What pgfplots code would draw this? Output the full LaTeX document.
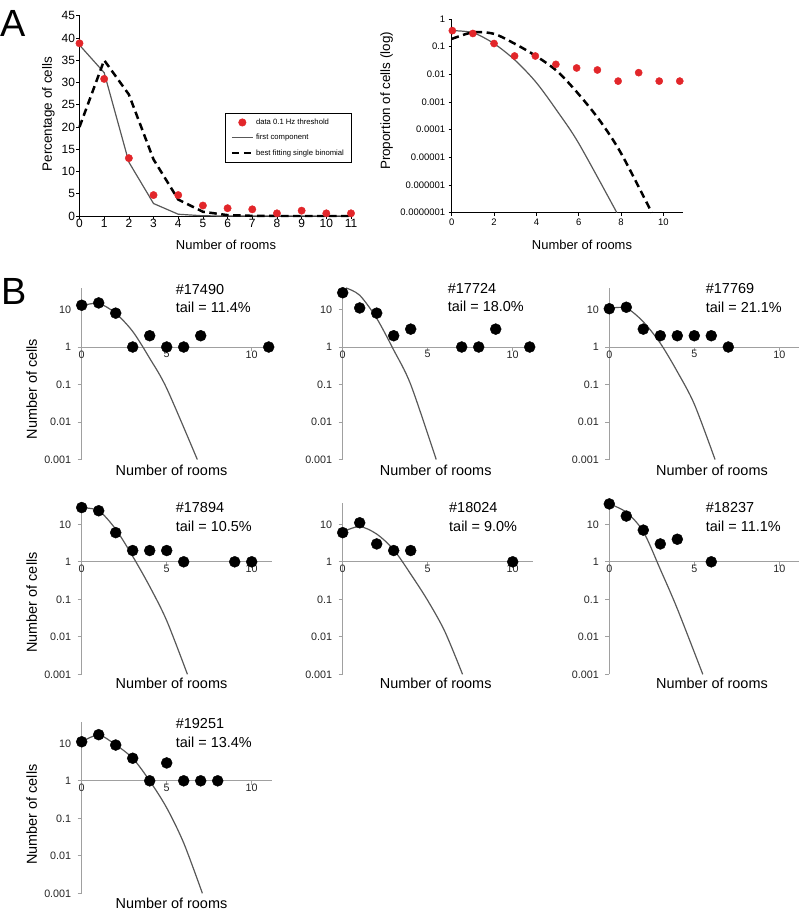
\documentclass[border=0pt]{standalone}
\usepackage{fontspec}
\setmainfont{Liberation Sans}
\usepackage{pgfplots}
\pgfplotsset{compat=1.18}
\definecolor{dotred}{RGB}{226,38,42}
\definecolor{curvegray}{RGB}{88,88,88}
\definecolor{axgray}{RGB}{160,160,160}
\newcommand{\fs}[1]{\fontsize{#1}{#1}\selectfont}
\pgfplotsset{
  noarrows/.style={
    axis line style={-},
    every inner x axis line/.append style={-},
    every inner y axis line/.append style={-},
    every outer x axis line/.append style={-},
    every outer y axis line/.append style={-},
  },
  bpanel/.style={
    anchor=south west, scale only axis, width=190.4bp, height=171.6bp,
    xmin=0, xmax=11.2, ymin=0.001, ymax=37.7,
    axis y line=left, axis x line=middle, noarrows,
    axis line style={draw=axgray, line width=0.9pt},
    xtick={0,5,10}, ytick={0.001,0.01,0.1,1,10},
    yticklabels={0.001,0.01,0.1,1,10},
    minor tick style={draw=none},
    major tick style={draw=axgray, line width=0.9pt},
    tick align=outside, major tick length=4bp,
    hide obscured x ticks=false, hide obscured y ticks=false,
    ticklabel style={font=\fs{10.8}, text=black!85},
    xticklabel style={yshift=4bp},
    yticklabel style={xshift=-3bp},
    /pgf/number format/assume math mode=true,
    clip=false,
  },
  bcurve/.style={curvegray, line width=1.2pt, smooth, tension=0.5, no markers},
  bdots/.style={only marks, mark=*, mark size=5.5bp, black},
}
\begin{document}
\begin{tikzpicture}
\path[use as bounding box] (0bp,0bp) rectangle (799bp,-916bp);

% ---------------- Panel A left ----------------
\begin{axis}[
  at={(79.5bp,-216bp)}, anchor=south west, scale only axis,
  width=271.5bp, height=200.3bp,
  xmin=0, xmax=11, ymin=0, ymax=45,
  axis lines=left, noarrows, axis line style={black, line width=0.7pt},
  xtick={0,...,11}, ytick={0,5,...,45},
  tick align=outside, major tick length=3bp, major tick style={black, line width=0.7pt},
  minor tick style={draw=none},
  ticklabel style={font=\fs{12}},
  xticklabel style={yshift=3bp}, yticklabel style={xshift=2bp},
  /pgf/number format/assume math mode=true,
  clip=false,
  legend cell align=left,
  legend style={at={(0.537,0.516)}, anchor=north west, draw=black, line width=0.6pt,
    font=\fs{7.7}, inner xsep=5bp, inner ysep=4bp, row sep=4.3bp},
  legend image code/.code={\draw[mark repeat=2,mark phase=2,#1] plot coordinates {(0bp,0bp) (10.5bp,0bp) (21bp,0bp)};},
]
\addplot[only marks, mark=*, mark size=3.7bp, dotred] coordinates {
 (0,38.8) (1,30.8) (2,13.0) (3,4.7) (4,4.7) (5,2.35) (6,1.75) (7,1.5) (8,0.6) (9,1.2) (10,0.6) (11,0.6)};
\addlegendentry{data 0.1 Hz threshold}
\addplot[curvegray, line width=1.2pt, no markers] coordinates {
 (0,38.4) (1,32.2) (2,12.1) (3,2.8) (4,0.4) (5,0.05) (6,0) (7,0) (8,0) (9,0) (10,0) (11,0)};
\addlegendentry{first component}
\addplot[black, line width=2.5pt, dash pattern=on 7.5bp off 4.5bp, no markers] coordinates {
 (0,20) (1,35) (2,27.3) (3,12.7) (4,3.7) (5,0.95) (6,0.2) (7,0.04) (8,0) (9,0) (10,0) (11,0)};
\addlegendentry{best fitting single binomial}
\end{axis}

% ---------------- Panel A right ----------------
\begin{axis}[
  at={(451.7bp,-212.7bp)}, anchor=south west, scale only axis,
  width=230.8bp, height=193.7bp,
  xmin=0, xmax=10.9, ymode=log, ymin=1e-7, ymax=1,
  axis lines=left, noarrows, axis line style={black, line width=0.7pt},
  xtick={0,2,4,6,8,10},
  ytick={1e-7,1e-6,1e-5,1e-4,1e-3,1e-2,1e-1,1},
  yticklabels={0.0000001,0.000001,0.00001,0.0001,0.001,0.01,0.1,1},
  tick align=outside, major tick length=3bp, major tick style={black, line width=0.7pt},
  minor tick style={draw=none},
  ticklabel style={font=\fs{9.5}},
  /pgf/number format/assume math mode=true,
  clip=false,
]
\addplot[only marks, mark=*, mark size=3.6bp, dotred] coordinates {
 (0.03,0.38) (1,0.30) (2,0.13) (2.97,0.046) (3.95,0.046) (4.92,0.023) (5.9,0.017) (6.88,0.0144) (7.86,0.0057) (8.83,0.0115) (9.8,0.0057) (10.77,0.0057)};
\addplot[curvegray, line width=1.2pt, smooth, tension=0.5, no markers] coordinates {
 (0,0.38) (1,0.32) (2,0.129) (3,0.032) (4,0.005) (5,4.5e-4) (6,3.2e-5) (7.8,1e-7)};
\addplot[black, line width=2.5pt, dash pattern=on 7.5bp off 4.5bp, smooth, tension=0.5, no markers] coordinates {
 (0,0.19) (1,0.33) (2,0.29) (3,0.125) (4,0.045) (5,0.0126) (6,0.0019) (7,2.1e-4) (8,1.4e-5) (9.45,1e-7)};
\end{axis}

% ---------------- Panel labels and axis titles for A ----------------
\node[font=\fs{38}] at (13bp,-23.5bp) {A};
\node[font=\fs{38}] at (14bp,-291bp) {B};
\node[font=\fs{13.5}, rotate=90] at (48.3bp,-114.2bp) {Percentage of cells};
\node[font=\fs{13.5}, rotate=90] at (386.7bp,-100.8bp) {Proportion of cells (log)};
\node[font=\fs{13}] at (226bp,-245bp) {Number of rooms};
\node[font=\fs{13}] at (582bp,-245bp) {Number of rooms};

% ---------------- Panel B ----------------
% #17490
\begin{axis}[ymode=log, bpanel, at={(81.7bp,-459.5bp)}]
\addplot[bcurve] coordinates {(0,12.6) (1,14.5) (2,7.9) (3,2.6) (4,0.5) (5,0.079) (6.8,0.001)};
\addplot[bdots] coordinates {(0,13) (1,15) (2,8) (3,1) (4,2) (5,1) (6,1) (7,2) (11,1)};
\end{axis}
% #17724
\begin{axis}[ymode=log, bpanel, at={(342.7bp,-459.5bp)}]
\addplot[bcurve] coordinates {(0.2,37.5) (1,24) (2,5.8) (3,0.83) (4,0.1) (5.5,0.001)};
\addplot[bdots] coordinates {(0,28) (1,11) (2,8) (3,2) (4,3) (7,1) (8,1) (9,3) (11,1)};
\end{axis}
% #17769
\begin{axis}[ymode=log, bpanel, at={(609.3bp,-459.5bp)}]
\addplot[bcurve] coordinates {(0,10.7) (1,10.9) (2,4.7) (3,1.26) (4,0.22) (5,0.03) (6.22,0.001)};
\addplot[bdots] coordinates {(0,10.5) (1,11.5) (2,3) (3,2) (4,2) (5,2) (6,2) (7,1)};
\end{axis}
% #17894
\begin{axis}[ymode=log, bpanel, at={(81.7bp,-674.3bp)}]
\addplot[bcurve] coordinates {(0,27.5) (1,23) (2,7.4) (3,1.4) (4,0.22) (5,0.027) (6.22,0.001)};
\addplot[bdots] coordinates {(0,28) (1,23) (2,6) (3,2) (4,2) (5,2) (6,1) (9,1) (10,1)};
\end{axis}
% #18024
\begin{axis}[ymode=log, bpanel, at={(342.7bp,-674.3bp)}]
\addplot[bcurve] coordinates {(0,6.3) (1,8.7) (2,5.5) (3,2.1) (4,0.47) (5,0.093) (6,0.0141) (7.05,0.001)};
\addplot[bdots] coordinates {(0,6) (1,11) (2,3) (3,2) (4,2) (10,1)};
\end{axis}
% #18237
\begin{axis}[ymode=log, bpanel, at={(609.3bp,-674.3bp)}]
\addplot[bcurve] coordinates {(0,35) (1,21) (2,6.4) (3,0.63) (4,0.056) (5.5,0.001)};
\addplot[bdots] coordinates {(0,35) (1,16.6) (2,7) (3,3) (4,4) (6,1)};
\end{axis}
% #19251
\begin{axis}[ymode=log, bpanel, at={(81.7bp,-893.3bp)}]
\addplot[bcurve] coordinates {(0,11) (1,16.6) (2,9.1) (3,4) (4,1) (5,0.19) (6,0.022) (7.1,0.001)};
\addplot[bdots] coordinates {(0,11) (1,17) (2,9) (3,4) (4,1) (5,3) (6,1) (7,1) (8,1)};
\end{axis}

% titles of panel B
\foreach \yy in {389,602.5,814.7}
  \node[font=\fs{14.5}, rotate=90] at (31.7bp,-\yy bp) {Number of cells};
\node[font=\fs{14.5}] at (171.5bp,-470bp) {Number of rooms};
\node[font=\fs{14.5}] at (435.7bp,-470bp) {Number of rooms};
\node[font=\fs{14.5}] at (712bp,-470bp) {Number of rooms};
\node[font=\fs{14.5}] at (171.5bp,-683.3bp) {Number of rooms};
\node[font=\fs{14.5}] at (435.7bp,-683.3bp) {Number of rooms};
\node[font=\fs{14.5}] at (712bp,-683.3bp) {Number of rooms};
\node[font=\fs{14.5}] at (171.5bp,-903.3bp) {Number of rooms};

\begin{scope}[every node/.style={font=\fs{14.5}, anchor=west, inner sep=0pt}]
\node at (175.7bp,-289.3bp) {\#17490};
\node at (175.7bp,-307.3bp) {tail = 11.4\%};
\node at (447.7bp,-288.3bp) {\#17724};
\node at (447.7bp,-306.7bp) {tail = 18.0\%};
\node at (705.7bp,-288.3bp) {\#17769};
\node at (705.7bp,-307bp) {tail = 21.1\%};
\node at (175.7bp,-507.7bp) {\#17894};
\node at (175.7bp,-526.7bp) {tail = 10.5\%};
\node at (449bp,-507.7bp) {\#18024};
\node at (449bp,-526.7bp) {tail = 9.0\%};
\node at (705.7bp,-507.7bp) {\#18237};
\node at (705.7bp,-526.7bp) {tail = 11.1\%};
\node at (175.7bp,-723.3bp) {\#19251};
\node at (175.7bp,-742.3bp) {tail = 13.4\%};
\end{scope}
\end{tikzpicture}
\end{document}
